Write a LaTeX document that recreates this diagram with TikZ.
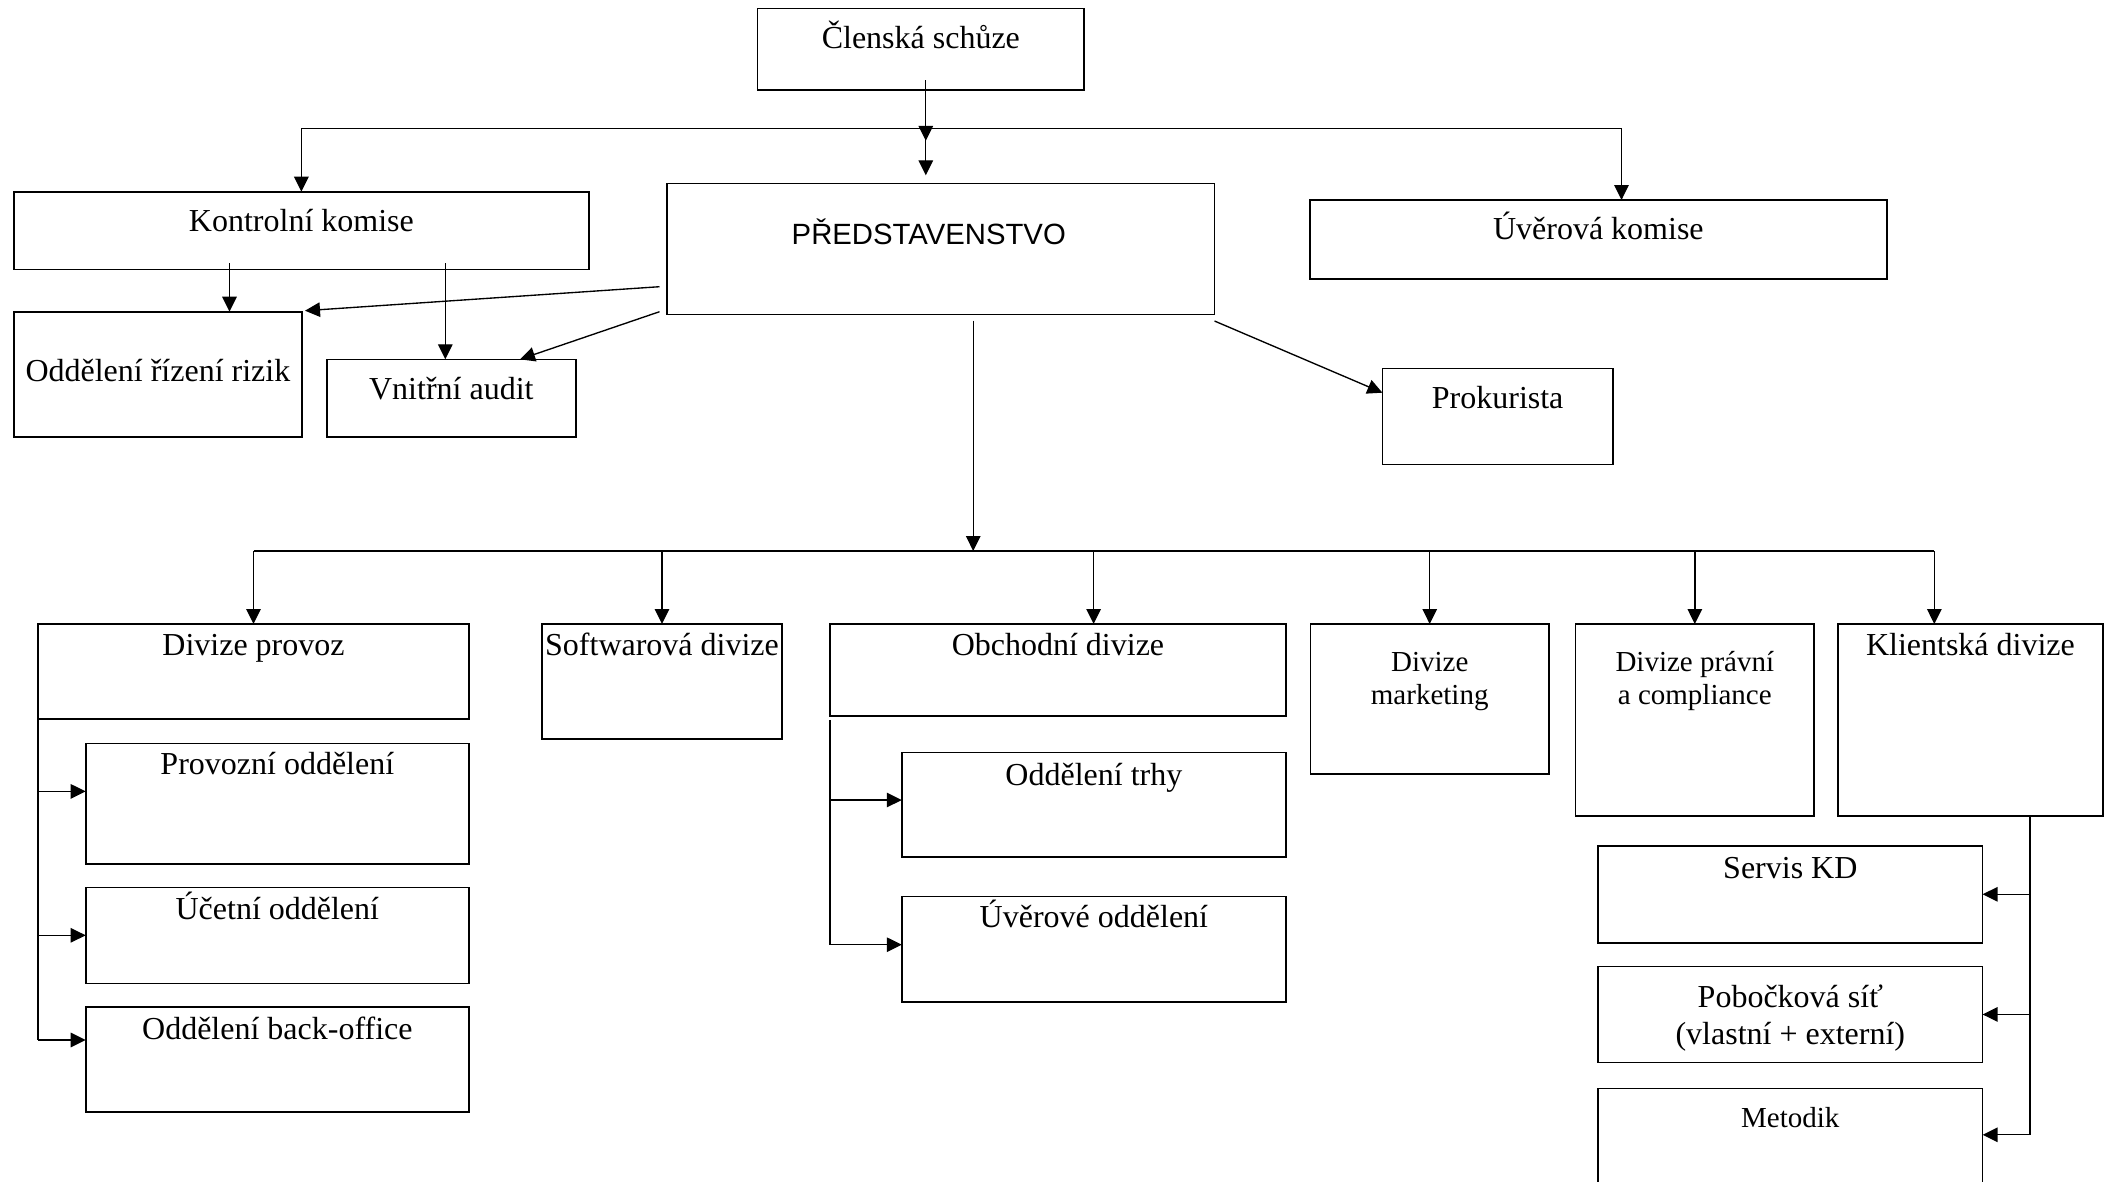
\documentclass[tikz,border=0pt]{standalone}
\usepackage{fontspec}
\setmainfont{Liberation Serif}
\newfontfamily\sansf{Liberation Sans}
\usetikzlibrary{arrows.meta,calc}
\newcommand\nfs{\fontsize{32}{36.8}\selectfont}
\newcommand\sfs{\fontsize{29}{33.4}\selectfont}
\newcommand\psf{\sansf\fontsize{29.3}{33.6}\selectfont}
\newcommand\bt[5]{\parbox[c][#2pt][t]{#1pt}{#4\centering\rule{0pt}{\dimexpr#3pt+1.4pt\relax}#5\par}}
\begin{document}
\begin{tikzpicture}[x=1pt,y=-1pt,
  box/.style={draw,line width=1.6pt,inner sep=0pt,outer sep=0pt,anchor=north west},
  conn/.style={line width=1.35pt},
  arr/.style={conn,-{Triangle[length=15pt,width=14.5pt]}}]
\useasboundingbox (0,0) rectangle (2108,1181);
\clip (0,0) rectangle (2108,1181);
\fill[white] (0,0) rectangle (2108,1181);

% boxes
\node[box] (ks) at (757.5,8.3) {\bt{326.7}{81.7}{39}{\nfs}{Členská schůze}};
\node[box] (kk) at (13.8,191.7) {\bt{575.2}{77.6}{38.5}{\nfs}{Kontrolní komise}};
\node[box] (pr) at (667,183.3) {\bt{547.5}{131}{60}{\psf}{PŘEDSTAVENSTVO\hspace*{24pt}}};
\node[box] (uk) at (1310,200) {\bt{576.7}{78.7}{38}{\nfs}{Úvěrová komise}};
\node[box] (rr) at (13.8,311.7) {\bt{288.2}{125}{68}{\nfs}{Oddělení řízení rizik}};
\node[box] (va) at (326.7,359.3) {\bt{249.3}{77.4}{39}{\nfs}{Vnitřní audit}};
\node[box] (pk) at (1382.4,368.3) {\bt{230.5}{96}{39}{\nfs}{Prokurista}};

\node[box] (dp) at (38,624) {\bt{431}{95}{30.5}{\nfs}{Divize provoz}};
\node[box] (sd) at (542,624) {\bt{240}{114.7}{30.5}{\nfs}{Softwarová divize}};
\node[box] (od) at (830,624) {\bt{456}{91.8}{30}{\nfs}{Obchodní divize}};
\node[box] (dm) at (1310.4,624) {\bt{238.6}{150}{46}{\sfs}{Divize\\marketing}};
\node[box] (dpc) at (1575.6,624) {\bt{238.4}{192}{46}{\sfs}{Divize právní\\a compliance}};
\node[box] (kd) at (1838,624) {\bt{264.8}{192}{30.5}{\nfs}{Klientská divize}};

\node[box] (po) at (85.7,743.6) {\bt{383.3}{120.2}{29.5}{\nfs}{Provozní oddělení}};
\node[box] (uo) at (85.7,887.5) {\bt{383.3}{96}{30.5}{\nfs}{Účetní oddělení}};
\node[box] (bo) at (85.7,1007) {\bt{383.3}{105}{31}{\nfs}{Oddělení back-office}};

\node[box] (ot) at (901.8,752.6) {\bt{384.2}{104.4}{31.5}{\nfs}{Oddělení trhy}};
\node[box] (uvo) at (901.8,896.5) {\bt{384.2}{105.5}{30}{\nfs}{Úvěrové oddělení}};

\node[box] (sk) at (1598,845.8) {\bt{384.6}{96.9}{31}{\nfs}{Servis KD}};
\node[box] (ps) at (1598,966.4) {\bt{384.6}{96.1}{40}{\nfs}{Pobočková síť\\(vlastní + externí)}};
\node[box] (me) at (1598,1088.6) {\bt{384.6}{120}{37}{\sfs}{Metodik}};

% top bus
\coordinate (busC) at (925.8,128.3);
\coordinate (busR) at (1621.5,128.3);
\draw[conn] (kk.north |- busC) -- (busR);
\draw[arr] (kk.north |- busC) -- (kk.north);
\draw[arr] (busR) -- (busR |- uk.north);
\draw[arr] ($(busC |- ks.south)+(0,-10)$) -- ($(busC)+(0,12.5)$);
\draw[arr] (busC) -- ($(busC |- pr.north)+(0,-8)$);

% control commission and board
\coordinate (k1) at ($(kk.south west)+(215.7,-6)$);
\coordinate (k2) at ($(kk.south west)+(431.5,-6)$);
\draw[arr] (k1) -- (k1 |- rr.north);
\draw[arr] (k2) -- (k2 |- va.north);
\draw[arr] ($(pr.south west)+(-7.5,-27.6)$) -- ($(rr.north east)+(3,-1)$);
\draw[arr] ($(pr.south west)+(-7.5,-2.6)$) -- ($(va.north east)+(-56,0)$);
\draw[arr] ($(pr.south east)+(0,6.7)$) -- ($(pk.north west)+(0,24.4)$);

% division bus
\coordinate (d0) at ($(pr.south)+(32.45,6.4)$);
\coordinate (hB) at (0,551);
\coordinate (bus2) at (d0 |- hB);
\coordinate (b2O) at (1093.6,551);
\coordinate (b2R) at (1934.3,551);
\draw[conn] (dp.north |- hB) -- (b2R);
\draw[arr] (d0) -- (bus2);
\foreach \n in {dp,sd,dm,dpc} \draw[arr] (\n.north |- hB) -- (\n.north);
\draw[arr] (b2O) -- (b2O |- od.north);
\draw[arr] (b2R) -- (b2R |- kd.north);

% Divize provoz
\coordinate (hA1) at (0,791.4);
\coordinate (hA2) at (0,935.3);
\coordinate (hA3) at (0,1040);
\draw[conn] (dp.south west) -- (dp.south west |- hA3);
\draw[arr] (dp.south west |- hA1) -- (po.west |- hA1);
\draw[arr] (dp.south west |- hA2) -- (uo.west |- hA2);
\draw[arr] (dp.south west |- hA3) -- (bo.west |- hA3);

% Obchodni divize
\coordinate (hO1) at (0,800);
\coordinate (hO2) at (0,944.7);
\draw[conn] ($(od.south west)+(0,4)$) -- (od.south west |- hO2);
\draw[arr] (od.south west |- hO1) -- (ot.west |- hO1);
\draw[arr] (od.south west |- hO2) -- (uvo.west |- hO2);

% Klientska divize
\coordinate (kv) at ($(kd.south west)+(192,0)$);
\coordinate (hK3) at (0,1134.8);
\draw[conn] (kv) -- (kv |- hK3);
\draw[arr] (kv |- sk.east) -- (sk.east);
\draw[arr] (kv |- ps.east) -- (ps.east);
\draw[arr] (kv |- hK3) -- (me.east |- hK3);
\end{tikzpicture}
\end{document}
